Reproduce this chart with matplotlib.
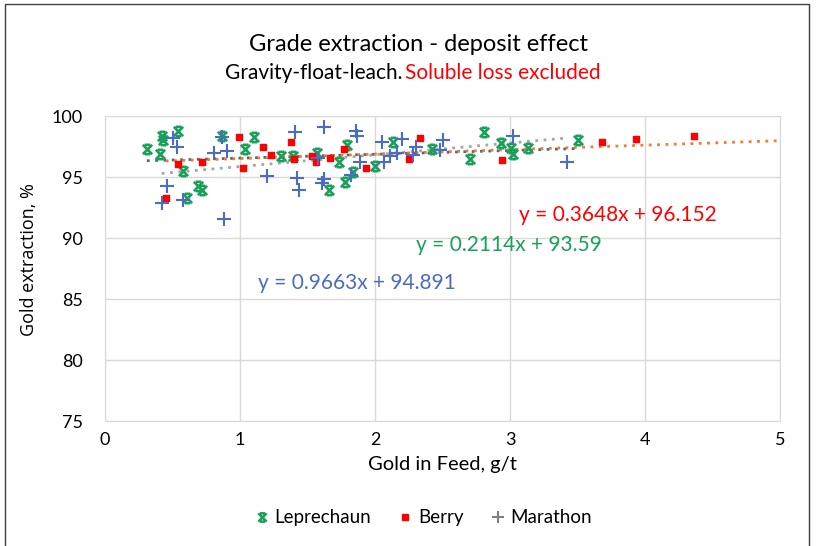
import numpy as np
import matplotlib
matplotlib.use("Agg")
import matplotlib.pyplot as plt
from matplotlib.lines import Line2D
from matplotlib.path import Path

# Leprechaun
lep_x = [0.31, 0.41, 0.42, 0.43, 0.54, 0.58, 0.61, 0.69, 0.72, 0.87, 1.04, 1.10, 1.30, 1.39, 1.57,
         1.66, 1.73, 1.78, 1.79, 1.84, 2.00, 2.13, 2.42, 2.70, 2.81, 2.93, 3.01, 3.02, 3.13, 3.50]
lep_y = [97.3, 96.9, 98.4, 98.0, 98.8, 95.5, 93.3, 94.3, 93.9, 98.4, 97.3, 98.3, 96.7, 96.7, 97.0,
         93.9, 96.2, 94.6, 97.6, 95.4, 95.9, 97.9, 97.3, 96.5, 98.7, 97.8, 97.4, 96.9, 97.4, 98.0]

# Berry
ber_x = [0.45, 0.54, 0.72, 0.99, 1.02, 1.17, 1.23, 1.38, 1.40, 1.53, 1.56, 1.67, 1.77, 1.93,
         2.25, 2.33, 2.94, 3.68, 3.93, 4.36]
ber_y = [93.3, 96.1, 96.2, 98.3, 95.7, 97.5, 96.8, 97.9, 96.5, 96.7, 96.2, 96.6, 97.3, 95.7,
         96.5, 98.2, 96.4, 97.9, 98.1, 98.4]

# Marathon
mar_x = [0.42, 0.46, 0.50, 0.53, 0.58, 0.81, 0.87, 0.88, 0.90, 1.20, 1.41, 1.42, 1.44, 1.58, 1.61,
         1.62, 1.62, 1.82, 1.86, 1.87, 1.89, 2.05, 2.07, 2.11, 2.16, 2.20, 2.28, 2.30, 2.48, 2.50,
         3.02, 3.42]
mar_y = [92.9, 94.3, 98.2, 97.5, 93.1, 97.0, 98.3, 91.6, 97.1, 95.1, 98.7, 94.9, 93.9, 96.6, 94.5,
         99.1, 94.8, 95.2, 98.8, 98.4, 96.2, 97.9, 96.2, 96.7, 97.0, 98.1, 96.8, 97.5, 97.2, 98.0,
         98.4, 96.2]

# trendline equations as printed
ber_fit = (0.3648, 96.152)
mar_fit = (0.9663, 94.891)
lep_label = "y = 0.2114x + 93.59"

green = "#1aa05a"
red = "#ff0000"
blue = "#4a6cc4"

plt.rcParams['font.family'] = ['Lato', 'DejaVu Sans']

# x with little caps top and bottom, like the excel star marker looks here
star = Path([(-1, -1), (1, 1), (-1, 1), (1, -1), (-0.6, 1), (0.6, 1), (-0.6, -1), (0.6, -1)],
            [Path.MOVETO, Path.LINETO] * 4)

fig = plt.figure(figsize=(8.23, 5.46), dpi=100)
ax = fig.add_axes([0.1276, 0.2289, 0.8202, 0.5586])

# trendlines
lx = np.array([min(lep_x), max(lep_x)])
lp = np.polyfit(lep_x, lep_y, 1)
ax.plot(lx, np.polyval(lp, lx), ls=(0, (1, 2)), lw=2, color="#5b6675", zorder=2)
mx = np.array([min(mar_x), max(mar_x)])
ax.plot(mx, mar_fit[0] * mx + mar_fit[1], ls=(0, (1, 2)), lw=2, color="#a6a6a6", zorder=2)
bx = np.array([min(ber_x), 5])
ax.plot(bx, ber_fit[0] * bx + ber_fit[1], ls=(0, (1, 2)), lw=2, color="#ed7d31", zorder=2)

ax.scatter(lep_x, lep_y, marker=star, s=45, color=green, lw=1.9, zorder=3)
ax.scatter(ber_x, ber_y, marker="s", s=22, color=red, zorder=3)
ax.scatter(mar_x, mar_y, marker="+", s=90, color=blue, lw=1.5, zorder=3)

ax.set_xlim(0, 5)
ax.set_ylim(75, 100)
ax.set_xticks(range(0, 6))
ax.set_yticks(range(75, 101, 5))
ax.grid(True, color="#d9d9d9", lw=1)
ax.set_axisbelow(True)
for s in ax.spines.values():
    s.set_color("#d9d9d9")
ax.tick_params(length=0, labelsize=13)
ax.tick_params(axis="y", pad=16)
ax.tick_params(axis="x", pad=8)
ax.set_xlabel("Gold in Feed, g/t", fontsize=14.5, labelpad=6)
ax.set_ylabel("Gold extraction, %", fontsize=13, family=["Open Sans", "DejaVu Sans"])
ax.yaxis.set_label_coords(-0.1, 0.53)

ax.text(3.07, 91.9, "y = 0.3648x + 96.152", color=red, fontsize=15, va="center")
ax.text(2.3, 89.4, lep_label, color=green, fontsize=15, va="center")
ax.text(1.13, 86.3, "y = 0.9663x + 94.891", color=blue, fontsize=15, va="center")

fig.text(0.508, 0.918, "Grade extraction - deposit effect", ha="center", va="center", fontsize=17)
t1 = fig.text(0.273, 0.866, "Gravity-float-leach.", ha="left", va="center", fontsize=15)
fig.canvas.draw()
bb = t1.get_window_extent()
fig.text(bb.x1 / fig.bbox.width + 0.004, 0.866, "Soluble loss excluded", color=red,
         ha="left", va="center", fontsize=15)

handles = [Line2D([], [], ls="", marker=star, color=green, ms=6, mew=1.8),
           Line2D([], [], ls="", marker="s", color=red, ms=5),
           Line2D([], [], ls="", marker="+", color="#7f7f7f", ms=9, mew=1.5)]
fig.legend(handles, ["Leprechaun", "Berry", "Marathon"], loc="center", bbox_to_anchor=(0.513, 0.052),
           ncol=3, frameon=False, fontsize=13.5, handletextpad=0.2, columnspacing=1.3, handlelength=1)

# chart border
fig.add_artist(Line2D([0.006, 0.006, 0.983, 0.983], [0, 0.992, 0.992, 0], color="#404040",
                      lw=1, transform=fig.transFigure))

fig.savefig("out.png", dpi=100)
